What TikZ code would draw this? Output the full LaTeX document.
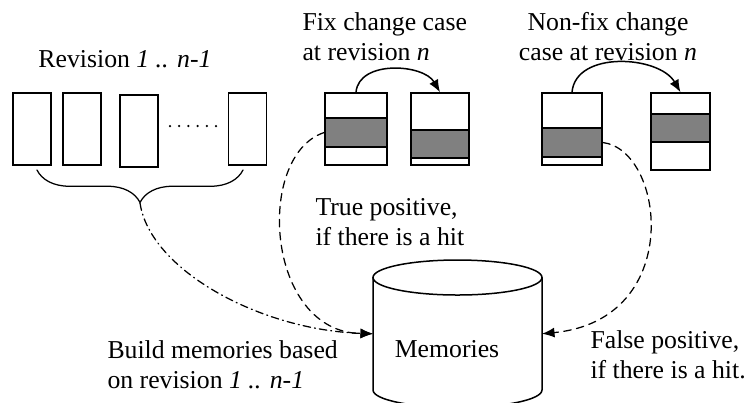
\documentclass[tikz,border=0pt]{standalone}
\usepackage{fontspec}
\setmainfont{Liberation Serif}
\usetikzlibrary{arrows.meta,decorations.pathreplacing}

\begin{document}
\begin{tikzpicture}
	[x=0.4pt,y=-0.4pt,line cap=round,
	%Styles
	revbox/.style={draw,line width=0.6pt,inner sep=0pt,minimum width=15.2pt,minimum height=28.8pt},
	band/.style={draw,line width=0.6pt,fill=black!50,inner sep=0pt},
	caption/.style={inner sep=0pt,align=left,font=\fontsize{10.3}{12}\selectfont},
	change arrow/.style={->,line width=0.6pt},
	hit line/.style={->,line width=0.5pt,dash pattern=on 3pt off 2.2pt},
	build line/.style={->,line width=0.5pt,dash pattern=on 3pt off 1.6pt on 0.4pt off 1.6pt},
	>={Latex[length=5pt,width=4pt]}
	]

	%The graphic
	\useasboundingbox (0,0) rectangle (752,402);

	%Revisions 1 .. n-1
	\node[caption,anchor=north] (revtext) at (125,50) {Revision \textit{1 .. n-1}};
	\node[revbox] (rev1) at (32,129) {};
	\node[revbox] (rev2) at (82,129) {};
	\node[revbox] (rev3) at (139,131) {};
	\foreach \i in {0,...,5} \fill (170+9.2*\i,126) circle (0.5pt);
	\node[revbox] (revlast) at (247.5,129) {};
	\draw[line width=0.5pt,decorate,decoration={brace,mirror,amplitude=13pt}] (37,170) -- (243,170);
	\coordinate (bracetip) at (140,203);

	%Fix change case
	\node[caption,anchor=north west] (fixtext) at (302,12) {Fix change case\\at revision \textit{n}};
	\node[revbox,minimum width=24.8pt] (fix1) at (356,129) {};
	\node[band,minimum width=24.8pt,minimum height=11.6pt] (fix1band) at (356,132.5) {};
	\node[revbox,minimum width=23.2pt] (fix2) at (440,129) {};
	\node[band,minimum width=23.2pt,minimum height=11.2pt] (fix2band) at (440,144) {};
	\draw[change arrow] (fix1.north) to[out=85,in=120] (fix2.north);

	%Non-fix change case
	\node[caption,anchor=north,align=center] (nfixtext) at (608,12) {Non-fix change\\case at revision \textit{n}};
	\node[revbox,minimum width=24pt] (nfix1) at (572,129) {};
	\node[band,minimum width=24pt,minimum height=11.6pt] (nfix1band) at (572,142.5) {};
	\node[revbox,minimum width=23.6pt,minimum height=30.8pt] (nfix2) at (680.5,131.5) {};
	\node[band,minimum width=23.6pt,minimum height=11.2pt] (nfix2band) at (680.5,128) {};
	\draw[change arrow] (nfix1.north) to[out=85,in=120] (nfix2.north);

	%Memories
	\node[inner sep=0pt,outer sep=0pt,minimum width=67.6pt,minimum height=45pt] (mem) at (457.5,333.75) {};
	\draw[line width=0.6pt] (mem.north west) -- (mem.south west)
		arc[start angle=180,end angle=360,x radius=33.8pt,y radius=7pt] -- (mem.north east);
	\draw[line width=0.6pt] (mem.north) ellipse[x radius=33.8pt,y radius=7pt];
	\node[caption] (memtext) at (447,349) {Memories};

	\draw[hit line] (fix1band.west) .. controls (255,155) and (265,332) .. (mem.west);
	\draw[hit line] (nfix1band.east) .. controls (665,150) and (685,320) .. (mem.east);
	\draw[build line] (bracetip) .. controls (150,270) and (260,330) .. (mem.west);

	\node[caption,anchor=north west] (tptext) at (315,198) {True positive,\\if there is a hit};
	\node[caption,anchor=north west] (buildtext) at (107,340) {Build memories based\\on revision \textit{1 .. n-1}};
	\node[caption,anchor=north west] (fptext) at (590,330) {False positive,\\if there is a hit.};
\end{tikzpicture}
\end{document}
